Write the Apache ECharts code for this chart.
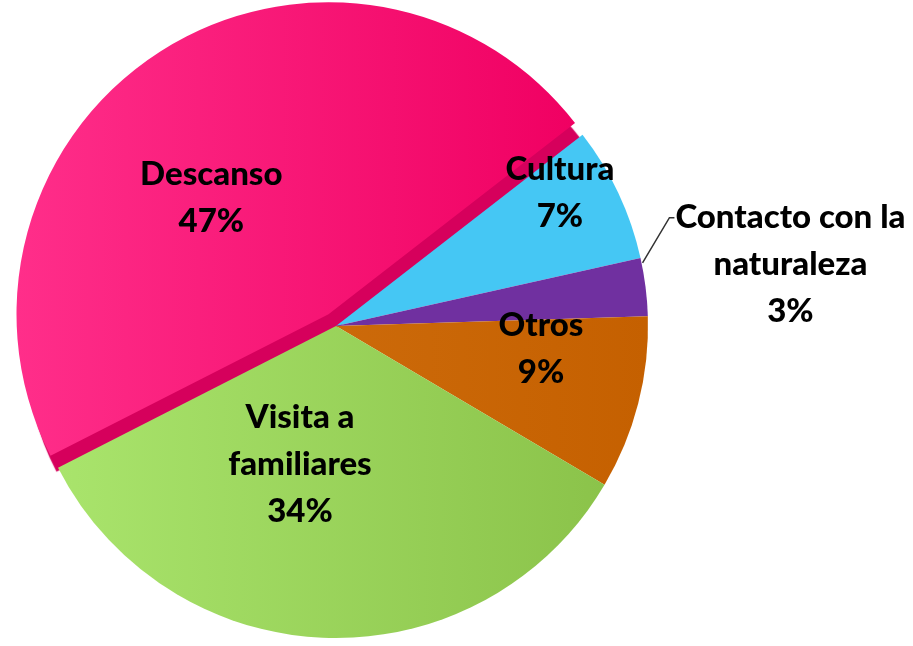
<!DOCTYPE html>
<html>
<head>
<meta charset="utf-8">
<script src="https://cdn.jsdelivr.net/npm/echarts@6/dist/echarts.min.js"></script>
<style>
    html, body { margin: 0; padding: 0; background: #ffffff; }
    #chart { width: 913px; height: 646px; }
</style>
</head>
<body>
<div id="chart"></div>
<script>
// motivos de viaje (%)
const categories = ['Descanso', 'Cultura', 'Contacto con la\nnaturaleza', 'Otros', 'Visita a\nfamiliares']
const values = [47, 7, 3, 9, 34]

const sliceColors = [
    { type: 'linear', x: 0, y: 0, x2: 1, y2: 0, colorStops: [{ offset: 0, color: '#ff2e8a' }, { offset: 1, color: '#f00062' }] },
    '#45c7f4',
    '#7030a0',
    { type: 'linear', x: 0, y: 0, x2: 1, y2: 0, colorStops: [{ offset: 0, color: '#cc6a0a' }, { offset: 1, color: '#c56000' }] },
    { type: 'linear', x: 0, y: 0, x2: 1, y2: 0, colorStops: [{ offset: 0, color: '#a9e46c' }, { offset: 1, color: '#8bc34a' }] },
]
// small nudges so the labels sit like in the original
const labelShift = [[-32, 18], [80, -65], [0, -21], [51, -17], [-31, -21]]

const chart = echarts.init(document.getElementById('chart'))

const textStyle = {
    color: '#000',
    fontFamily: 'Lato',
    fontWeight: 900,
    fontSize: 33,
    lineHeight: 47,
}

const option = {
    backgroundColor: '#ffffff',
    animation: false,
    series: [
        {
            type: 'pie',
            center: [336, 326],
            radius: 312,
            startAngle: 207,
            clockwise: true,
            selectedMode: 'single',
            selectedOffset: 14,
            avoidLabelOverlap: false,
            emphasis: { disabled: true },
            label: Object.assign({
                position: 'inside',
                formatter: p => p.name + '\n' + p.value + '%',
            }, textStyle),
            labelLayout: p => {
                const s = labelShift[p.dataIndex]
                const out = { dx: s[0], dy: s[1] }
                if (p.dataIndex === 2 && p.labelLinePoints) {
                    // leader goes up to the first text line
                    const r = p.labelRect
                    const yLine = r.y + s[1] + 24
                    out.labelLinePoints = [
                        [p.labelLinePoints[0][0] - 3, p.labelLinePoints[0][1] - 24],
                        [r.x - 6, yLine],
                        [r.x - 1, yLine],
                    ]
                }
                return out
            },
            data: categories.map((name, i) => {
                const item = {
                    name: name,
                    value: values[i],
                    itemStyle: { color: sliceColors[i] },
                }
                if (i === 0) {
                    item.selected = true
                    item.itemStyle.shadowColor = '#d6005c'
                    item.itemStyle.shadowBlur = 1
                    item.itemStyle.shadowOffsetX = 6
                    item.itemStyle.shadowOffsetY = 16
                }
                if (i === 2) {
                    item.label = {
                        position: 'outside',
                        distanceToLabelLine: 4,
                        formatter: p => p.name.split('\n').concat(p.value + '%').map(s => '{c|' + s + '}').join('\n'),
                        rich: {
                            c: Object.assign({ align: 'center' }, textStyle),
                        },
                    }
                    item.labelLine = {
                        show: true,
                        length: 14,
                        length2: 12,
                        lineStyle: { color: '#333', width: 1.5 },
                    }
                } else {
                    item.labelLine = { show: false }
                }
                return item
            }),
        },
    ],
}

chart.setOption(option)
</script>
</body>
</html>
